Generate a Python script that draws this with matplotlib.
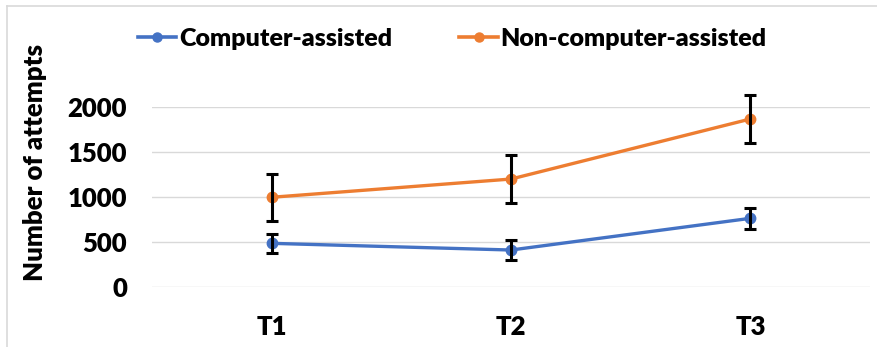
import matplotlib
matplotlib.use("Agg")
import matplotlib.pyplot as plt
from matplotlib.lines import Line2D
import numpy as np

# mean attempts per session and their error bars
sessions = ["T1", "T2", "T3"]
computer = [487, 413, 764]
computer_err = [103, 115, 115]
non_computer = [997, 1199, 1864]
non_computer_err = [260, 265, 267]
yticks = [0, 500, 1000, 1500, 2000]

blue = "#4472C4"
orange = "#ED7D31"

plt.rcParams['font.family'] = ['Lato', 'DejaVu Sans']
plt.rcParams['font.weight'] = 'heavy'
plt.rcParams['axes.labelweight'] = 'heavy'

fig = plt.figure(figsize=(8.78, 3.47), dpi=100)
ax = fig.add_axes([0.173, 0.172, 0.818, 0.5205])

x = np.arange(len(sessions)) + 0.5
for vals, errs, col, name in [(computer, computer_err, blue, "Computer-assisted"),
                              (non_computer, non_computer_err, orange, "Non-computer-assisted")]:
    ax.plot(x, vals, color=col, lw=2.4, marker="o", ms=7.5, label=name, zorder=3, clip_on=False)
    ax.errorbar(x, vals, yerr=errs, fmt="none", ecolor="black", elinewidth=2.2,
                capsize=4, capthick=2.2, zorder=4, clip_on=False)

ax.set_xlim(0, 3)
ax.set_ylim(0, 2000)
ax.set_yticks(yticks)
ax.set_xticks(x)
ax.set_xticklabels(sessions)
ax.tick_params(length=0, labelsize=18.5)
ax.tick_params(axis="x", pad=20)
ax.tick_params(axis="y", pad=18)
ax.grid(axis="y", color="#d9d9d9", lw=1)
ax.set_axisbelow(True)
for s in ax.spines.values():
    s.set_visible(False)
ax.set_ylabel("Number of attempts", fontsize=18.5)
ax.yaxis.set_label_coords(-0.146, 0.69)

handles = [Line2D([], [], color=blue, lw=2.6, marker="o", ms=6.5),
           Line2D([], [], color=orange, lw=2.6, marker="o", ms=6.5)]
fig.legend(handles, ["Computer-assisted", "Non-computer-assisted"],
           loc="center", bbox_to_anchor=(0.515, 0.887), ncol=2, frameon=False,
           fontsize=18, handlelength=1.55, handletextpad=0.1, columnspacing=2.7)

# light frame along top and left edges
fig.add_artist(Line2D([7 / 878, 1], [1 - 6 / 347, 1 - 6 / 347], color="#d9d9d9", lw=1.2))
fig.add_artist(Line2D([7 / 878, 7 / 878], [0, 1 - 6 / 347], color="#d9d9d9", lw=1.2))

fig.savefig("out.png", dpi=100)
